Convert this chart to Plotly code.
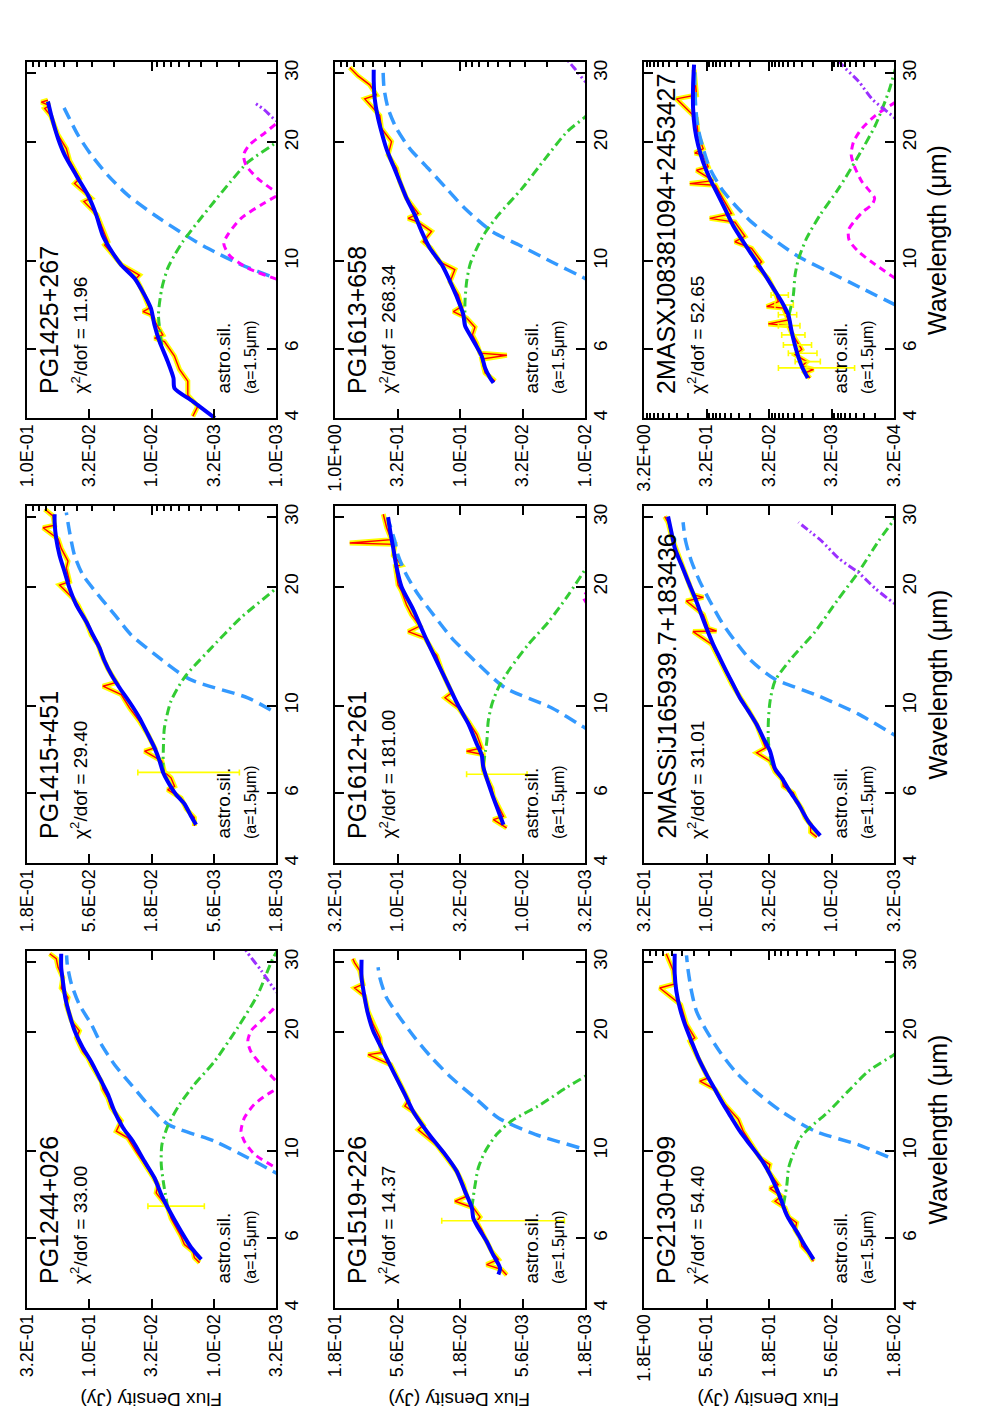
import math
import plotly.graph_objects as go

FONT = "Liberation Sans, Arial, Helvetica, sans-serif"
W, H = 984, 1417

# panels in column order (left column top->bottom, then middle, then right)
PANELS = ["PG1425+267", "PG1415+451", "PG1244+026",
          "PG1613+658", "PG1612+261", "PG1519+226",
          "2MASXJ08381094+2453427", "2MASSiJ165939.7+183436", "PG2130+099"]

CHI2 = {"PG1425+267": "11.96", "PG1415+451": "29.40", "PG1244+026": "33.00",
        "PG1613+658": "268.34", "PG1612+261": "181.00", "PG1519+226": "14.37",
        "2MASXJ08381094+2453427": "52.65", "2MASSiJ165939.7+183436": "31.01",
        "PG2130+099": "54.40"}

FLUX_TICKS = {
    "PG1425+267": ["1.0E-01", "3.2E-02", "1.0E-02", "3.2E-03", "1.0E-03"],
    "PG1415+451": ["1.8E-01", "5.6E-02", "1.8E-02", "5.6E-03", "1.8E-03"],
    "PG1244+026": ["3.2E-01", "1.0E-01", "3.2E-02", "1.0E-02", "3.2E-03"],
    "PG1613+658": ["1.0E+00", "3.2E-01", "1.0E-01", "3.2E-02", "1.0E-02"],
    "PG1612+261": ["3.2E-01", "1.0E-01", "3.2E-02", "1.0E-02", "3.2E-03"],
    "PG1519+226": ["1.8E-01", "5.6E-02", "1.8E-02", "5.6E-03", "1.8E-03"],
    "2MASXJ08381094+2453427": ["3.2E+00", "3.2E-01", "3.2E-02", "3.2E-03", "3.2E-04"],
    "2MASSiJ165939.7+183436": ["3.2E-01", "1.0E-01", "3.2E-02", "1.0E-02", "3.2E-03"],
    "PG2130+099": ["1.8E+00", "5.6E-01", "1.8E-01", "5.6E-02", "1.8E-02"],
}
WL_TICKS = [4, 6, 10, 20, 30]
WL_RANGE = [4, 32]
TOP_MINOR = ["PG1425+267", "PG1415+451", "PG1613+658", "PG2130+099"]

# ---- observed spectra (wavelength um, flux Jy)
SPEC_WL = {
    "PG1425+267": [4.04, 4.28, 4.57, 4.96, 5.31, 5.74, 6.25, 6.38, 6.50, 7.31, 7.45, 7.60, 8.53, 9.04, 9.22, 9.80, 10.99, 11.2, 13.09, 14.17, 14.45, 15.73, 16.2, 18.0, 19.3, 20.9, 23.4, 24.4, 24.8, 25.3, 25.6],
    "PG1415+451": [4.96, 5.21, 5.49, 5.84, 6.13, 6.25, 6.57, 6.80, 7.24, 7.67, 7.82, 8.45, 9.13, 9.87, 10.67, 11.2, 11.45, 12.4, 13.5, 14.3, 15.1, 16.3, 18.0, 18.7, 20.2, 20.6, 22.3, 23.2, 25.0, 26.4, 28.2, 28.6, 30.2, 31.4],
    "PG1244+026": [5.21, 5.36, 5.56, 5.79, 6.07, 6.38, 6.74, 7.17, 7.60, 7.82, 8.20, 8.87, 9.4, 9.95, 10.78, 11.2, 11.9, 12.84, 13.6, 14.3, 15.0, 16.5, 17.2, 17.8, 19.3, 20.1, 21.3, 23.4, 24.4, 25.8, 27.4, 29.1, 30.6, 31.5],
    "PG1613+658": [4.96, 5.21, 5.41, 5.64, 5.77, 5.84, 6.19, 6.50, 6.80, 7.17, 7.45, 7.67, 8.2, 8.87, 9.52, 9.95, 10.78, 11.2, 11.9, 12.56, 12.84, 13.2, 14.45, 15.9, 17.2, 18.6, 20.1, 21.7, 23.4, 25.8, 26.4, 28.0, 29.5, 31.0],
    "PG1612+261": [4.91, 5.15, 5.25, 5.56, 5.90, 6.19, 6.57, 6.86, 7.52, 7.67, 7.82, 8.45, 9.13, 9.87, 10.47, 10.78, 12.0, 13.4, 13.7, 14.85, 15.4, 15.9, 17.0, 18.0, 19.5, 20.2, 22.5, 22.7, 24.0, 25.6, 25.8, 26.3, 28.2, 29.4, 30.5],
    "PG1519+226": [4.85, 5.0, 5.15, 5.31, 5.56, 6.02, 6.31, 6.62, 6.80, 7.17, 7.45, 7.67, 8.20, 8.87, 9.6, 10.35, 11.3, 11.6, 12.56, 12.97, 13.4, 14.45, 15.27, 16.5, 17.5, 17.7, 19.3, 20.9, 22.5, 24.6, 25.8, 26.4, 28.6, 29.9, 30.6],
    "2MASXJ08381094+2453427": [5.05, 5.21, 5.31, 5.41, 5.56, 5.79, 5.97, 6.25, 6.57, 6.86, 6.93, 7.09, 7.60, 7.67, 7.89, 8.37, 9.04, 9.7, 9.95, 10.78, 11.2, 11.56, 12.56, 12.84, 13.2, 14.45, 15.58, 15.73, 16.0, 17.0, 17.35, 18.6, 18.8, 19.3, 20.9, 23.0, 25.8, 26.4, 28.6, 30.6],
    "2MASSiJ165939.7+183436": [4.65, 4.79, 5.0, 5.21, 5.49, 5.74, 6.02, 6.25, 6.50, 6.80, 7.24, 7.60, 7.82, 8.28, 8.96, 9.7, 10.47, 11.3, 12.2, 13.2, 14.3, 15.4, 15.45, 15.7, 17.0, 18.4, 18.8, 19.1, 20.6, 22.75, 25.0, 26.9, 29.1, 30.1],
    "PG2130+099": [5.25, 5.51, 5.74, 6.02, 6.31, 6.57, 6.80, 7.17, 7.45, 7.67, 8.03, 8.20, 8.87, 9.22, 9.6, 10.35, 11.2, 12.0, 13.1, 14.3, 15.0, 15.27, 17.2, 18.9, 19.3, 20.9, 23.4, 25.8, 26.4, 28.6, 30.6, 31.5],
}
SPEC_F = {
    "PG1425+267": [4.66e-3, 4.25e-3, 5.11e-3, 5.11e-3, 5.96e-3, 6.54e-3, 7.87e-3, 9.46e-3, 8.11e-3, 1.01e-2, 1.17e-2, 1.04e-2, 1.21e-2, 1.33e-2, 1.25e-2, 1.75e-2, 2.38e-2, 2.24e-2, 2.73e-2, 3.49e-2, 3.05e-2, 4.15e-2, 3.78e-2, 4.55e-2, 4.83e-2, 5.64e-2, 6.46e-2, 7.21e-2, 6.58e-2, 7.67e-2, 6.79e-2],
    "PG1415+451": [8.04e-3, 8.04e-3, 9.38e-3, 1.03e-2, 1.32e-2, 1.16e-2, 1.24e-2, 1.40e-2, 1.47e-2, 2.02e-2, 1.68e-2, 1.90e-2, 2.22e-2, 2.67e-2, 3.11e-2, 4.37e-2, 3.41e-2, 3.98e-2, 4.51e-2, 4.79e-2, 5.42e-2, 5.94e-2, 6.93e-2, 7.60e-2, 9.73e-2, 8.09e-2, 8.59e-2, 8.33e-2, 9.44e-2, 0.100, 0.132, 0.1067, 0.110, 0.128],
    "PG1244+026": [1.30e-2, 1.43e-2, 1.47e-2, 1.72e-2, 1.83e-2, 2.00e-2, 2.20e-2, 2.34e-2, 2.73e-2, 2.90e-2, 2.81e-2, 3.28e-2, 3.71e-2, 4.20e-2, 4.90e-2, 6.07e-2, 5.53e-2, 6.67e-2, 7.08e-2, 7.76e-2, 8.02e-2, 9.64e-2, 0.1026, 0.1125, 0.127, 0.120, 0.139, 0.153, 0.148, 0.168, 0.163, 0.178, 0.184, 0.208],
    "PG1613+658": [5.24e-2, 6.30e-2, 6.50e-2, 6.70e-2, 4.22e-2, 6.91e-2, 7.35e-2, 7.96e-2, 7.59e-2, 8.85e-2, 0.113, 9.70e-2, 0.103, 0.120, 0.110, 0.145, 0.171, 0.197, 0.169, 0.216, 0.260, 0.216, 0.268, 0.303, 0.322, 0.376, 0.353, 0.425, 0.438, 0.578, 0.466, 0.527, 0.654, 0.762],
    "PG1612+261": [1.34e-2, 1.71e-2, 1.42e-2, 1.56e-2, 1.71e-2, 1.76e-2, 1.93e-2, 2.06e-2, 2.06e-2, 2.80e-2, 2.12e-2, 2.32e-2, 2.71e-2, 3.26e-2, 4.17e-2, 3.69e-2, 4.31e-2, 4.86e-2, 5.17e-2, 6.04e-2, 8.20e-2, 6.62e-2, 7.72e-2, 8.47e-2, 9.29e-2, 9.89e-2, 0.104, 9.29e-2, 0.108, 0.105, 0.241, 0.112, 0.122, 0.126, 0.130],
    "PG1519+226": [7.52e-3, 8.24e-3, 1.09e-2, 8.77e-3, 9.91e-3, 1.12e-2, 1.19e-2, 1.31e-2, 1.23e-2, 1.39e-2, 1.95e-2, 1.57e-2, 1.67e-2, 1.89e-2, 2.28e-2, 2.74e-2, 3.84e-2, 3.50e-2, 4.21e-2, 4.91e-2, 4.61e-2, 5.22e-2, 5.72e-2, 6.37e-2, 9.66e-2, 7.55e-2, 7.79e-2, 8.81e-2, 9.66e-2, 0.103, 0.124, 0.106, 0.113, 0.124, 0.128],
    "2MASXJ08381094+2453427": [6.95e-3, 8.36e-3, 6.15e-3, 9.46e-3, 7.87e-3, 1.21e-2, 9.46e-3, 1.14e-2, 1.37e-2, 1.55e-2, 3.24e-2, 1.55e-2, 1.86e-2, 3.44e-2, 2.24e-2, 2.54e-2, 3.24e-2, 4.99e-2, 4.15e-2, 6.00e-2, 0.111, 7.67e-2, 0.111, 0.280, 0.126, 0.175, 0.227, 0.585, 0.247, 0.457, 0.297, 0.357, 0.486, 0.357, 0.431, 0.457, 0.957, 0.457, 0.486, 0.499],
    "2MASSiJ165939.7+183436": [1.31e-2, 1.47e-2, 1.47e-2, 1.63e-2, 1.73e-2, 1.90e-2, 2.02e-2, 2.43e-2, 2.47e-2, 2.83e-2, 3.10e-2, 3.97e-2, 3.37e-2, 3.62e-2, 3.97e-2, 4.57e-2, 5.41e-2, 6.25e-2, 7.05e-2, 8.06e-2, 9.12e-2, 0.128, 8.32e-2, 9.70e-2, 0.106, 0.145, 0.106, 0.128, 0.140, 0.159, 0.179, 0.191, 0.203, 0.216],
    "PG2130+099": [7.83e-2, 8.59e-2, 9.73e-2, 0.100, 0.110, 0.107, 0.124, 0.132, 0.159, 0.141, 0.175, 0.150, 0.180, 0.175, 0.210, 0.245, 0.286, 0.313, 0.401, 0.48, 0.636, 0.546, 0.65, 0.765, 0.698, 0.813, 0.904, 1.33, 1.01, 1.04, 1.14, 1.18],
}

# ---- total model fit
MODEL_WL = {
    "PG1425+267": [4.0, 4.41, 4.76, 5.05, 5.56, 6.26, 6.89, 7.59, 8.21, 9.05, 9.78, 10.8, 11.6, 13.1, 14.7, 16.5, 18.6, 20.5, 23.4, 25.4],
    "PG1415+451": [5.0, 5.25, 5.64, 5.96, 6.44, 6.80, 7.24, 7.82, 8.62, 9.31, 10.07, 11.1, 12.0, 12.97, 14.0, 15.1, 16.3, 18.0, 19.8, 21.8, 24.0, 26.4, 29.1, 30.5],
    "PG1244+026": [5.31, 5.69, 6.25, 7.17, 7.74, 8.53, 9.4, 10.57, 11.45, 12.56, 13.88, 15.27, 16.8, 18.2, 20.1, 22.1, 24.4, 26.9, 29.1, 31.5],
    "PG1613+658": [4.91, 5.05, 5.36, 5.74, 6.38, 6.86, 7.31, 7.74, 8.70, 9.80, 10.78, 11.9, 13.1, 14.45, 15.9, 17.5, 19.3, 21.3, 23.4, 25.8, 28.6, 30.6],
    "PG1612+261": [5.0, 6.0, 7.0, 7.5, 8.0, 9.0, 10.0, 12.0, 15.0, 17.5, 20.0, 22.5, 25.0, 27.0, 30.0],
    "PG1519+226": [4.86, 5.05, 5.44, 5.90, 6.38, 6.74, 7.17, 7.89, 8.87, 9.80, 10.78, 11.67, 12.56, 13.88, 15.0, 16.5, 18.2, 20.1, 22.1, 24.4, 27.4, 30.4],
    "2MASXJ08381094+2453427": [5.05, 5.41, 5.90, 6.62, 7.31, 7.89, 8.53, 9.22, 10.1, 11.2, 12.3, 13.6, 14.7, 16.2, 17.8, 19.7, 21.7, 24.4, 28.0, 31.5],
    "2MASSiJ165939.7+183436": [4.69, 5.09, 5.64, 6.07, 6.57, 6.93, 7.67, 8.28, 8.96, 9.7, 10.47, 11.3, 12.2, 13.2, 14.3, 15.7, 17.0, 18.8, 20.6, 22.75, 25.0, 27.5, 30.1],
    "PG2130+099": [5.31, 5.74, 6.25, 6.74, 7.02, 7.45, 8.03, 8.87, 9.6, 10.35, 11.2, 12.1, 13.1, 14.3, 15.6, 17.2, 18.9, 20.9, 23.0, 25.3, 28.0, 31.5],
}
MODEL_F = {
    "PG1425+267": [3.1e-3, 4.66e-3, 6.54e-3, 6.66e-3, 7.40e-3, 8.63e-3, 9.46e-3, 1.01e-2, 1.14e-2, 1.37e-2, 1.75e-2, 2.17e-2, 2.46e-2, 2.78e-2, 3.24e-2, 4.02e-2, 4.99e-2, 5.64e-2, 6.38e-2, 6.79e-2],
    "PG1415+451": [7.80e-3, 8.55e-3, 9.66e-3, 1.13e-2, 1.32e-2, 1.44e-2, 1.53e-2, 1.68e-2, 1.96e-2, 2.22e-2, 2.59e-2, 3.21e-2, 3.75e-2, 4.24e-2, 4.65e-2, 5.26e-2, 5.94e-2, 7.15e-2, 8.09e-2, 8.87e-2, 9.73e-2, 0.1035, 0.1067, 0.1067],
    "PG1244+026": [1.26e-2, 1.52e-2, 1.83e-2, 2.34e-2, 2.64e-2, 2.99e-2, 3.60e-2, 4.47e-2, 5.37e-2, 6.26e-2, 7.08e-2, 8.26e-2, 9.64e-2, 0.1125, 0.131, 0.144, 0.156, 0.163, 0.168, 0.168],
    "PG1613+658": [5.40e-2, 5.74e-2, 6.30e-2, 6.70e-2, 8.05e-2, 9.12e-2, 9.40e-2, 0.100, 0.1167, 0.140, 0.174, 0.203, 0.230, 0.268, 0.303, 0.343, 0.388, 0.425, 0.457, 0.481, 0.490, 0.490],
    "PG1612+261": [1.42e-2, 1.76e-2, 2.06e-2, 2.12e-2, 2.32e-2, 2.71e-2, 3.26e-2, 4.31e-2, 6.04e-2, 7.48e-2, 9.29e-2, 0.102, 0.108, 0.113, 0.119],
    "PG1519+226": [8.77e-3, 8.50e-3, 9.62e-3, 1.09e-2, 1.27e-2, 1.39e-2, 1.43e-2, 1.62e-2, 1.89e-2, 2.35e-2, 3.00e-2, 3.61e-2, 4.21e-2, 4.91e-2, 5.56e-2, 6.48e-2, 7.55e-2, 8.81e-2, 9.66e-2, 0.103, 0.109, 0.109],
    "2MASXJ08381094+2453427": [7.59e-3, 9.46e-3, 1.14e-2, 1.37e-2, 1.55e-2, 1.98e-2, 2.69e-2, 3.66e-2, 5.31e-2, 8.17e-2, 0.118, 0.161, 0.206, 0.280, 0.357, 0.431, 0.486, 0.518, 0.518, 0.50],
    "2MASSiJ165939.7+183436": [1.23e-2, 1.53e-2, 1.84e-2, 2.15e-2, 2.50e-2, 2.83e-2, 3.10e-2, 3.51e-2, 3.97e-2, 4.63e-2, 5.41e-2, 6.11e-2, 6.92e-2, 7.82e-2, 8.85e-2, 0.100, 0.110, 0.124, 0.140, 0.159, 0.179, 0.191, 0.203],
    "PG2130+099": [7.83e-2, 9.14e-2, 0.107, 0.124, 0.132, 0.141, 0.155, 0.180, 0.210, 0.252, 0.304, 0.354, 0.413, 0.482, 0.562, 0.656, 0.741, 0.839, 0.920, 0.979, 1.01, 1.01],
}

# ---- hot dust component (green dash-dot)
HOT_WL = {
    "PG1425+267": [6.13, 7.31, 8.53, 9.6, 10.35, 11.2, 12.56, 14.17, 15.9, 17.8, 20.0, 21.0],
    "PG1415+451": [6.80, 7.67, 8.79, 10.27, 11.8, 13.7, 16.7, 19.8, 21.0],
    "PG1244+026": [7.17, 8.20, 9.22, 10.35, 11.56, 13.09, 14.7, 16.8, 20.5, 24.8, 30.6, 32.5],
    "PG1613+658": [6.86, 7.89, 8.87, 9.80, 10.78, 11.8, 13.1, 15.27, 18.2, 21.3, 23.2, 24.5],
    "PG1612+261": [7.09, 8.12, 9.13, 10.07, 11.1, 12.4, 14.3, 16.3, 19.1, 22.1, 23.5],
    "PG1519+226": [7.17, 8.03, 9.04, 9.95, 11.0, 11.9, 13.1, 14.45, 15.4, 16.2],
    "2MASXJ08381094+2453427": [7.31, 8.20, 9.22, 10.1, 11.45, 13.1, 15.27, 18.2, 22.1, 26.9, 29.9, 32.0],
    "2MASSiJ165939.7+183436": [7.09, 8.12, 9.13, 10.27, 11.56, 13.2, 15.4, 18.4, 21.8, 26.1, 29.5, 31.5],
    "PG2130+099": [7.31, 8.20, 9.04, 9.8, 10.78, 11.45, 12.56, 14.17, 15.9, 17.5, 18.5],
}
HOT_F = {
    "PG1425+267": [8.26e-3, 8.79e-3, 8.26e-3, 7.40e-3, 6.54e-3, 5.61e-3, 4.25e-3, 3.13e-3, 2.32e-3, 1.69e-3, 1.0e-3, 8.5e-4],
    "PG1415+451": [1.44e-2, 1.43e-2, 1.40e-2, 1.24e-2, 9.66e-3, 6.28e-3, 3.40e-3, 1.78e-3, 1.5e-3],
    "PG1244+026": [2.34e-2, 2.52e-2, 2.64e-2, 2.61e-2, 2.34e-2, 1.88e-2, 1.43e-2, 9.89e-3, 6.41e-3, 4.44e-3, 3.36e-3, 3.0e-3],
    "PG1613+658": [9.12e-2, 9.12e-2, 8.85e-2, 8.32e-2, 7.35e-2, 6.30e-2, 4.93e-2, 3.20e-2, 2.08e-2, 1.39e-2, 1.0e-2, 8.5e-3],
    "PG1612+261": [2.06e-2, 1.93e-2, 1.88e-2, 1.76e-2, 1.56e-2, 1.26e-2, 8.95e-3, 6.19e-3, 4.28e-3, 3.16e-3, 2.8e-3],
    "PG1519+226": [1.43e-2, 1.36e-2, 1.27e-2, 1.12e-2, 9.04e-3, 6.85e-3, 4.0e-3, 2.5e-3, 1.78e-3, 1.4e-3],
    "2MASXJ08381094+2453427": [1.51e-2, 1.29e-2, 1.21e-2, 1.07e-2, 7.87e-3, 4.81e-3, 2.44e-3, 1.24e-3, 6.30e-4, 3.85e-4, 3.16e-4, 2.8e-4],
    "2MASSiJ165939.7+183436": [3.01e-2, 3.20e-2, 3.20e-2, 3.10e-2, 2.83e-2, 2.08e-2, 1.35e-2, 9.06e-3, 6.07e-3, 4.20e-3, 3.18e-3, 2.8e-3],
    "PG2130+099": [0.136, 0.128, 0.124, 0.114, 0.100, 8.34e-2, 5.94e-2, 4.11e-2, 2.84e-2, 1.78e-2, 1.4e-2],
}

# ---- warm dust component (light blue dashed)
WARM_WL = {
    "PG1425+267": [8.8, 9.04, 9.80, 10.78, 11.67, 13.09, 14.7, 16.5, 18.6, 20.9, 23.4, 25.3],
    "PG1415+451": [9.3, 9.6, 10.47, 11.67, 13.5, 15.1, 17.0, 19.1, 21.4, 24.0, 27.5, 30.8],
    "PG1244+026": [8.6, 8.79, 9.6, 10.57, 11.67, 13.09, 14.7, 16.5, 18.6, 20.9, 23.4, 26.4, 29.5, 31.2],
    "PG1613+658": [8.8, 9.04, 9.95, 11.0, 11.9, 13.6, 15.27, 17.2, 19.3, 21.7, 24.4, 27.4, 30.1],
    "PG1612+261": [8.6, 8.79, 9.87, 11.1, 12.97, 14.85, 17.0, 19.1, 21.4, 24.0, 26.1, 29.1],
    "PG1519+226": [9.8, 10.07, 11.0, 12.1, 13.6, 15.27, 17.2, 19.3, 21.7, 24.4, 27.4, 29.1],
    "2MASXJ08381094+2453427": [7.74, 8.53, 9.4, 10.27, 11.45, 12.56, 13.88, 15.27, 17.2, 19.3, 21.7, 24.4, 28.0, 31.3],
    "2MASSiJ165939.7+183436": [8.2, 8.45, 9.52, 10.67, 11.67, 12.97, 14.6, 16.3, 18.4, 20.6, 23.2, 26.1, 29.1],
    "PG2130+099": [9.3, 9.52, 10.35, 11.2, 12.56, 14.17, 15.9, 17.8, 20.1, 22.5, 25.3, 28.6, 31.2],
}
WARM_F = {
    "PG1425+267": [8e-4, 1.0e-3, 1.91e-3, 3.53e-3, 5.43e-3, 9.46e-3, 1.55e-2, 2.24e-2, 3.05e-2, 3.90e-2, 4.69e-2, 5.31e-2],
    "PG1415+451": [1.4e-3, 1.78e-3, 3.00e-3, 8.81e-3, 1.68e-2, 2.59e-2, 3.52e-2, 4.79e-2, 6.32e-2, 7.38e-2, 8.09e-2, 8.59e-2],
    "PG1244+026": [2.7e-3, 3.16e-3, 5.33e-3, 9.89e-3, 2.34e-2, 3.38e-2, 4.61e-2, 6.26e-2, 8.02e-2, 9.64e-2, 0.120, 0.139, 0.150, 0.152],
    "PG1613+658": [8.5e-3, 1.0e-2, 1.84e-2, 3.40e-2, 5.57e-2, 9.12e-2, 0.128, 0.180, 0.252, 0.322, 0.376, 0.405, 0.412],
    "PG1612+261": [2.7e-3, 3.16e-3, 5.82e-3, 1.38e-2, 2.40e-2, 3.69e-2, 5.17e-2, 6.83e-2, 8.47e-2, 9.89e-2, 0.105, 0.117],
    "PG1519+226": [1.4e-3, 1.78e-3, 4.45e-3, 8.77e-3, 1.35e-2, 2.07e-2, 3.00e-2, 4.08e-2, 5.38e-2, 6.89e-2, 7.79e-2, 8.04e-2],
    "2MASXJ08381094+2453427": [3.01e-4, 1.03e-3, 3.53e-3, 1.07e-2, 2.86e-2, 6.00e-2, 0.111, 0.182, 0.280, 0.357, 0.431, 0.469, 0.486, 0.486],
    "2MASSiJ165939.7+183436": [2.7e-3, 3.18e-3, 6.07e-3, 1.35e-2, 2.83e-2, 4.36e-2, 5.93e-2, 7.59e-2, 9.40e-2, 0.113, 0.132, 0.147, 0.154],
    "PG2130+099": [1.4e-2, 1.78e-2, 3.41e-2, 7.60e-2, 0.141, 0.230, 0.333, 0.440, 0.562, 0.676, 0.741, 0.789, 0.813],
}

# ---- silicate emission component (magenta dashed)
SIL_WL = {
    "PG1425+267": [8.8, 9.04, 9.6, 10.35, 11.1, 11.67, 12.84, 13.88, 14.6, 14.8, 15.0, 16.2, 17.5, 18.6, 19.7, 21.1, 22.3, 22.8],
    "PG1244+026": [8.8, 9.04, 9.8, 10.57, 11.2, 12.1, 13.1, 13.9, 14.3, 14.6, 15.0, 16.5, 17.8, 18.9, 20.1, 21.3, 22.5, 23.2, 23.6],
    "PG1612+261": [18.0, 18.8, 19.5],
    "2MASXJ08381094+2453427": [9.04, 9.8, 10.57, 11.3, 12.0, 12.7, 13.4, 13.9, 14.45, 15.0, 15.9, 17.2, 18.6, 20.1, 21.7, 23.4, 25.3],
}
SIL_F = {
    "PG1425+267": [8e-4, 1.03e-3, 1.69e-3, 2.37e-3, 2.63e-3, 2.44e-3, 1.91e-3, 1.32e-3, 1.0e-3, 9.0e-4, 1.0e-3, 1.40e-3, 1.74e-3, 1.82e-3, 1.64e-3, 1.24e-3, 1.0e-3, 9.0e-4],
    "PG1244+026": [2.8e-3, 3.16e-3, 4.72e-3, 5.68e-3, 6.04e-3, 5.68e-3, 4.72e-3, 3.69e-3, 3.16e-3, 2.9e-3, 3.16e-3, 4.17e-3, 5.02e-3, 5.33e-3, 5.02e-3, 4.17e-3, 3.47e-3, 3.16e-3, 2.9e-3],
    "PG1612+261": [3.0e-3, 3.25e-3, 3.0e-3],
    "2MASXJ08381094+2453427": [3.01e-4, 6.30e-4, 1.17e-3, 1.65e-3, 1.69e-3, 1.32e-3, 9.70e-4, 7.13e-4, 6.46e-4, 7.59e-4, 1.03e-3, 1.32e-3, 1.53e-3, 1.40e-3, 1.03e-3, 6.30e-4, 3.0e-4],
}

# ---- cold dust component (purple dash-dot-dot)
COLD_WL = {
    "PG1425+267": [22.3, 22.75, 24.2, 25.3],
    "PG1244+026": [24.5, 25.3, 28.6, 31.8, 33.0],
    "PG1613+658": [28.0, 28.6, 31.0, 32.5],
    "2MASXJ08381094+2453427": [22.0, 23.0, 25.8, 28.6, 31.5, 33.0],
    "2MASSiJ165939.7+183436": [17.6, 18.2, 19.8, 21.7, 23.6, 26.1, 27.5, 29.1],
}
COLD_F = {
    "PG1425+267": [8e-4, 1.0e-3, 1.24e-3, 1.51e-3],
    "PG1244+026": [2.8e-3, 3.16e-3, 4.17e-3, 5.41e-3, 5.8e-3],
    "PG1613+658": [9e-3, 1.0e-2, 1.23e-2, 1.4e-2],
    "2MASXJ08381094+2453427": [2.3e-4, 3.0e-4, 7.13e-4, 1.17e-3, 2.16e-3, 2.6e-3],
    "2MASSiJ165939.7+183436": [2.6e-3, 3.18e-3, 4.47e-3, 6.07e-3, 8.79e-3, 1.20e-2, 1.47e-2, 1.84e-2],
}

# ---- individual error bars on the spectra
ERR_WL = {
    "PG1415+451": [6.78], "PG1244+026": [7.24], "PG1612+261": [6.71], "PG1519+226": [6.65],
    "2MASXJ08381094+2453427": [5.36, 5.56, 5.84, 6.13, 6.50, 6.86, 7.31, 7.74, 8.20],
}
ERR_F = {
    "PG1415+451": [1.40e-2], "PG1244+026": [2.40e-2], "PG1612+261": [1.95e-2], "PG1519+226": [1.30e-2],
    "2MASXJ08381094+2453427": [6.15e-3, 7.87e-3, 1.01e-2, 1.14e-2, 1.34e-2, 1.55e-2, 1.65e-2, 1.93e-2, 2.30e-2],
}
ERR_UP = {
    "PG1415+451": [8.9e-3], "PG1244+026": [9.8e-3], "PG1612+261": [8.5e-3], "PG1519+226": [1.19e-2],
    "2MASXJ08381094+2453427": [1.62e-2, 4.2e-3, 5.4e-3, 7.2e-3, 6.4e-3, 6.9e-3, 5.9e-3, 6.1e-3, 6.3e-3],
}
ERR_DN = {
    "PG1415+451": [1.05e-2], "PG1244+026": [1.21e-2], "PG1612+261": [1.03e-2], "PG1519+226": [1.04e-2],
    "2MASXJ08381094+2453427": [4.8e-3, 3.1e-3, 4.7e-3, 4.8e-3, 5.0e-3, 5.4e-3, 5.1e-3, 6.4e-3, 7.5e-3],
}

# page geometry (px)
COL_PX = [(19, 268), (327, 577), (636, 886)]
ROW_PX = [(54, 410), (498, 855), (943, 1300)]

C_MODEL = "#0000FF"
C_WARM = "#3399FF"
C_HOT = "#33CC33"
C_SIL = "#FF00FF"
C_COLD = "#9B30FF"

fig = go.Figure()
layout = dict(width=W, height=H, margin=dict(l=0, r=0, t=0, b=0),
              paper_bgcolor="white", plot_bgcolor="white", showlegend=False,
              template="none")
annotations = []
tickfont = dict(family=FONT, size=18, color="black")


def line(name, wl, fl, ax, color, width, dash="solid", shape="spline"):
    fig.add_trace(go.Scatter(
        x=fl, y=wl, mode="lines", xaxis="x" + ax, yaxis="y" + ax,
        line=dict(color=color, width=width, dash=dash, shape=shape, smoothing=0.7),
        hoverinfo="skip", showlegend=False, name=name,
    ))


for i, name in enumerate(PANELS):
    col, row = divmod(i, 3)
    x0, x1 = COL_PX[col]
    y0, y1 = ROW_PX[row]
    ax = "" if i == 0 else str(i + 1)
    labels = FLUX_TICKS[name]
    tv = [10 ** (round(4 * math.log10(float(t))) / 4) for t in labels]
    has_top = name in TOP_MINOR
    xa = dict(domain=[x0 / W, x1 / W], type="log",
              range=[math.log10(tv[0]), math.log10(tv[-1])],
              anchor="y" + ax, tickmode="array", tickvals=tv, ticktext=labels,
              tickangle=-90, ticks="inside", ticklen=9, tickwidth=2, tickcolor="black",
              showline=True, linewidth=2, linecolor="black",
              mirror=True if has_top else "ticks",
              showgrid=False, zeroline=False, tickfont=tickfont, ticklabelstandoff=-3)
    if name.startswith("2MASX"):
        xa["minor"] = dict(tickmode="array",
                           tickvals=[v * f for v in tv for f in (0.9, 0.8, 0.7, 0.6, 0.5, 0.4, 0.3, 0.2)],
                           ticks="inside", ticklen=5, tickwidth=1.5, tickcolor="black")
    layout["xaxis" + ax] = xa
    layout["yaxis" + ax] = dict(
        domain=[1 - y1 / H, 1 - y0 / H], type="log",
        range=[math.log10(WL_RANGE[0]), math.log10(WL_RANGE[1])],
        anchor="x" + ax, side="right", tickmode="array", tickvals=WL_TICKS,
        ticktext=[str(v) for v in WL_TICKS], tickangle=-90,
        ticks="inside", ticklen=9, tickwidth=2, tickcolor="black",
        showline=True, linewidth=2, linecolor="black", mirror="ticks",
        showgrid=False, zeroline=False, tickfont=dict(family=FONT, size=19, color="black"),
        ticklabelstandoff=-3)

    if has_top:
        k = str(10 + i)
        layout["xaxis" + k] = dict(
            type="log", range=[-1, -3], overlaying="x" + ax, anchor="y" + ax, side="top",
            tickmode="array", tickvals=[1e-1, 1e-2, 1e-3], ticks="inside", ticklen=9,
            tickwidth=2, tickcolor="black", showticklabels=False, showline=False,
            showgrid=False, zeroline=False,
            minor=dict(tickmode="array",
                       tickvals=[m * 10 ** e for e in (-2, -3) for m in range(2, 10)],
                       ticks="inside", ticklen=5, tickwidth=1.5, tickcolor="black"))
        fig.add_trace(go.Scatter(x=[1e-2], y=[10], mode="markers", marker=dict(opacity=0),
                                 xaxis="x" + k, yaxis="y" + ax, hoverinfo="skip", showlegend=False))

    # spectrum: yellow error band under red trace
    line(name, SPEC_WL[name], SPEC_F[name], ax, "#FFFF00", 5, shape="linear")
    line(name, SPEC_WL[name], SPEC_F[name], ax, "#FF0000", 1.4, shape="linear")
    if name in ERR_WL:
        fig.add_trace(go.Scatter(
            x=ERR_F[name], y=ERR_WL[name], mode="markers", xaxis="x" + ax, yaxis="y" + ax,
            marker=dict(size=2, color="#FFFF00", opacity=0),
            error_x=dict(type="data", symmetric=False, array=ERR_UP[name],
                         arrayminus=ERR_DN[name], color="#FFFF00", thickness=1.6, width=3),
            hoverinfo="skip", showlegend=False))
    line(name, WARM_WL[name], WARM_F[name], ax, C_WARM, 3.5, dash="13px,7px")
    line(name, HOT_WL[name], HOT_F[name], ax, C_HOT, 3, dash="9px,4px,2px,4px")
    if name in SIL_WL:
        line(name, SIL_WL[name], SIL_F[name], ax, C_SIL, 3, dash="7px,5px")
    if name in COLD_WL:
        line(name, COLD_WL[name], COLD_F[name], ax, C_COLD, 3, dash="8px,3px,2px,3px,2px,3px")
    line(name, MODEL_WL[name], MODEL_F[name], ax, C_MODEL, 4)

    # panel texts (rotated)
    yb = 1 - (y1 - 22) / H
    for dx, txt, size in [(22, name, 25),
                          (52, "\u03c7<sup>2</sup>/dof = " + CHI2[name], 19),
                          (196, "astro.sil.", 19),
                          (223, "(a=1.5\u03bcm)", 16)]:
        annotations.append(dict(text=txt, x=(x0 + dx) / W, y=yb, xref="paper", yref="paper",
                                textangle=-90, xanchor="center", yanchor="bottom",
                                showarrow=False, font=dict(family=FONT, size=size, color="black")))

# shared axis titles
for (x0, x1) in COL_PX:
    annotations.append(dict(text="Flux Density (Jy)", x=(x0 + x1) / 2 / W, y=1 - 1392 / H,
                            xref="paper", yref="paper", textangle=180, showarrow=False,
                            xanchor="center", yanchor="middle",
                            font=dict(family=FONT, size=19, color="black")))
for (y0, y1) in ROW_PX:
    annotations.append(dict(text="Wavelength (\u03bcm)", x=929 / W, y=1 - (y0 + y1) / 2 / H,
                            xref="paper", yref="paper", textangle=-90, showarrow=False,
                            xanchor="center", yanchor="middle",
                            font=dict(family=FONT, size=25, color="black")))

layout["annotations"] = annotations
fig.update_layout(**layout)
fig.write_html("out.html")
